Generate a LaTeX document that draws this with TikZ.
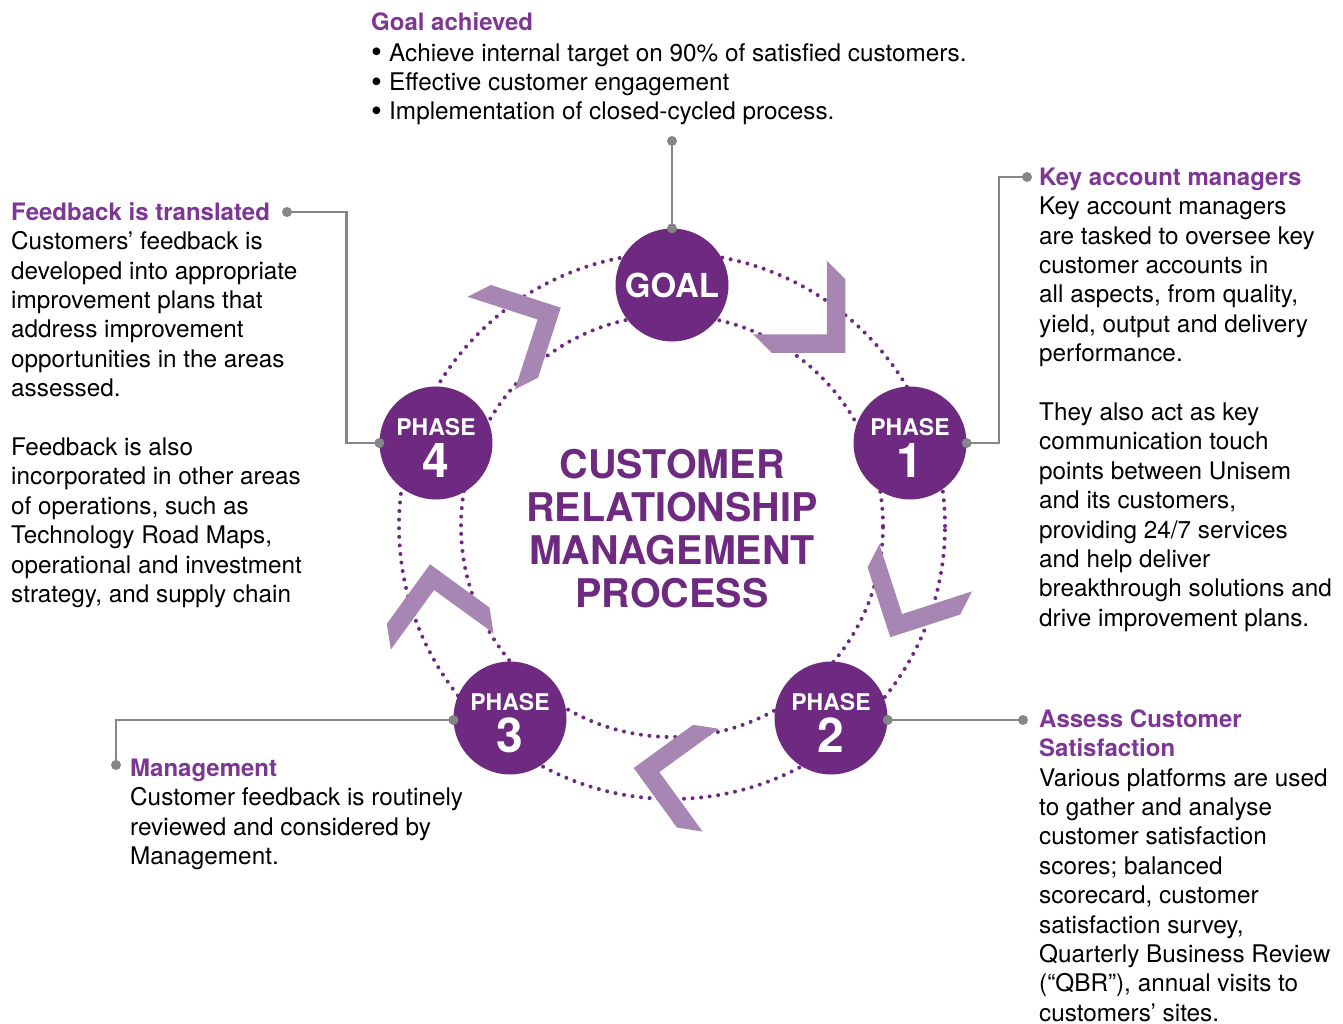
\documentclass[tikz,border=0pt]{standalone}
\usepackage{fontspec}
\setmainfont{TeX Gyre Heros}
\usetikzlibrary{calc}

\definecolor{crmpurple}{HTML}{6D2A80}
\definecolor{headpurple}{HTML}{7E3694}
\definecolor{chevfill}{HTML}{A886B3}
\definecolor{leadergray}{HTML}{858689}

\newcommand\bodyfont{\fontsize{24.3}{29.4}\selectfont}
\newcommand\headfont{\fontsize{24}{29.4}\selectfont\bfseries\color{headpurple}}
\newcommand\firstline{\rule{0pt}{20pt}}
\newcommand\bul{\makebox[18pt][l]{\raisebox{-1.6pt}{\fontsize{31}{31}\selectfont •}}}

\tikzset{
  chev/.pic={\fill[chevfill] (0,0) -- (-52,52) -- (-78,52) -- (-26,0) -- (-78,-52) -- (-52,-52) -- cycle;}
}

\begin{document}
\begin{tikzpicture}[x=1pt,y=1pt,
  ring/.style={crmpurple, line width=4pt, line cap=round, dash pattern=on 0pt off 8.6pt},
  stage/.style={circle, fill=crmpurple, minimum size=113pt, inner sep=0pt},
  stagecap/.style={anchor=base, text=white, inner sep=0pt, font=\fontsize{23}{23}\selectfont\bfseries},
  stagenum/.style={anchor=base, text=white, inner sep=0pt, font=\fontsize{48}{48}\selectfont\bfseries},
  leaderline/.style={leadergray, line width=2.4pt},
  leaderdot/.style={circle, fill=leadergray, minimum size=10pt, inner sep=0pt},
  blurb/.style={anchor=north west, inner sep=0pt, align=left, font=\bodyfont},
]
\useasboundingbox (0,0) rectangle (1343,-1024);

% ring of the cycle
\coordinate (c) at (672,-526);
\draw[ring] (c) circle[radius=273pt];
\draw[ring] (c) circle[radius=211pt];

% clockwise chevrons between the stages
\foreach \a in {45,-27,-99,-171,117}
  \pic[rotate=\a-90] at ($(c)+(\a:245)$) {chev};

% stages
\node[stage] (goal) at (672,-285) {};
\node[anchor=base, inner sep=0pt, text=white, font=\fontsize{33}{33}\selectfont\bfseries] (goaltxt) at ($(goal)+(0,-12)$) {GOAL};

\node[stage] (p1) at (910,-443) {};
\node[stage] (p2) at (831,-718) {};
\node[stage] (p3) at (510,-718) {};
\node[stage] (p4) at (436,-443) {};

\foreach \p/\n in {p1/1,p2/2,p3/3,p4/4}{
  \node[stagecap] (\p cap) at ($(\p)+(0,8)$) {PHASE};
  \node[stagenum] (\p num) at ($(\p)+(0,-34)$) {\n};
}

% central title
\node[anchor=north, align=center, inner sep=0pt, text=crmpurple,
      font=\fontsize{39.5}{43}\selectfont\bfseries] (crm) at (672,-446)
  {\rule{0pt}{32pt}CUSTOMER\\RELATIONSHIP\\MANAGEMENT\\PROCESS};

% leader lines
\node[leaderdot] (g0) at (672,-141) {};
\node[leaderdot] (g1) at (goal.north) {};
\draw[leaderline] (g0.center) -- (g1.center);

\node[leaderdot] (d1a) at (p1.east) {};
\node[leaderdot] (d1b) at (1027,-177) {};
\draw[leaderline] (d1a.center) -- ++(32,0) |- (d1b.center);

\node[leaderdot] (d2a) at ($(p2.east)+(0,-2)$) {};
\node[leaderdot] (d2b) at (1023,-720) {};
\draw[leaderline] (d2a.center) -- (d2b.center);

\node[leaderdot] (d3a) at ($(p3.west)+(0,-2)$) {};
\node[leaderdot] (d3b) at (116,-765) {};
\draw[leaderline] (d3a.center) -| (d3b.center);

\node[leaderdot] (d4a) at (p4.west) {};
\node[leaderdot] (d4b) at (287,-212) {};
\draw[leaderline] (d4a.center) -- ++(-33,0) |- (d4b.center);

% descriptions
\node[blurb] (goaltext) at (371,-10) {\firstline{\headfont Goal achieved}\\[1.6pt]
\bul Achieve internal target on 90\% of satisfied customers.\\
\bul Effective customer engagement\\
\bul Implementation of closed-cycled process.};

\node[blurb] (kamtext) at (1039,-165) {\firstline{\headfont Key account managers}\\
Key account managers\\
are tasked to oversee key\\
customer accounts in\\
all aspects, from quality,\\
yield, output and delivery\\
performance.\\[29.4pt]
They also act as key\\
communication touch\\
points between Unisem\\
and its customers,\\
providing 24/7 services\\
and help deliver\\
breakthrough solutions and\\
drive improvement plans.};

\node[blurb] (asstext) at (1039,-707) {\firstline{\headfont Assess Customer}\\
{\headfont Satisfaction}\\
Various platforms are used\\
to gather and analyse\\
customer satisfaction\\
scores; balanced\\
scorecard, customer\\
satisfaction survey,\\
Quarterly Business Review\\
(“QBR”), annual visits to\\
customers’ sites.};

\node[blurb] (mgttext) at (130,-756) {\firstline{\headfont Management}\\
Customer feedback is routinely\\
reviewed and considered by\\
Management.};

\node[blurb] (fbtext) at (11,-200) {\firstline{\headfont Feedback is translated}\\
Customers’ feedback is\\
developed into appropriate\\
improvement plans that\\
address improvement\\
opportunities in the areas\\
assessed.\\[29.4pt]
Feedback is also\\
incorporated in other areas\\
of operations, such as\\
Technology Road Maps,\\
operational and investment\\
strategy, and supply chain};
\end{tikzpicture}
\end{document}
